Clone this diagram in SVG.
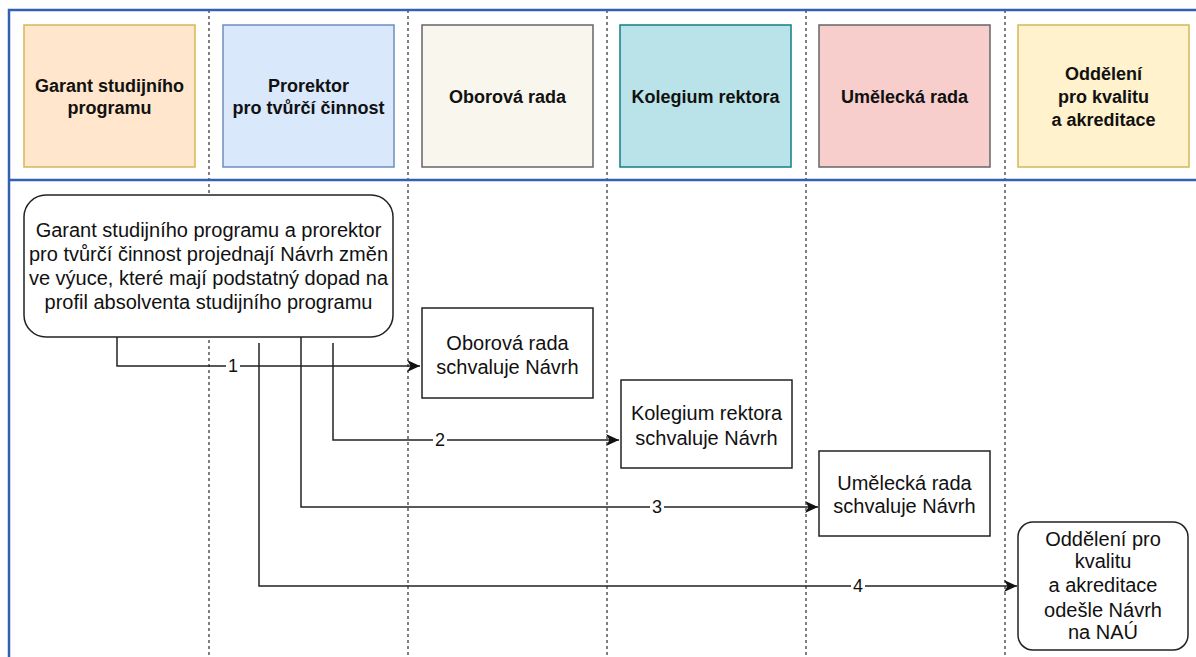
<svg xmlns="http://www.w3.org/2000/svg" width="1196" height="657" viewBox="0 0 1196 657">
<style>
.hdr{stroke-width:1.5}
.ht{font-family:"Liberation Sans",Arial,sans-serif;font-size:18px;font-weight:bold;fill:#111;text-anchor:middle}
.bt{font-family:"Liberation Sans",Arial,sans-serif;font-size:20px;fill:#111;text-anchor:middle}
.box{fill:#fff;stroke:#222;stroke-width:1.5}
.lane{stroke:#555;stroke-width:1.5;stroke-dasharray:3 3;fill:none}
.frame{stroke:#3360b0;stroke-width:2.5;fill:none}
.conn{stroke:#222;stroke-width:1.5;fill:none}
.lbl{font-family:"Liberation Sans",Arial,sans-serif;font-size:18px;fill:#111;text-anchor:middle}
</style>
<defs>
<marker id="arr" markerUnits="userSpaceOnUse" markerWidth="14" markerHeight="12" refX="13" refY="6" orient="auto">
<path d="M0,0 L13,6 L0,12 L3.5,6 Z" fill="#111"/>
</marker>
</defs>
<rect width="1196" height="657" fill="#fff"/>
<g id="lanes">
<path class="lane" d="M209,10V657M408,10V657M607,10V657M806,10V657M1005,10V657"/>
</g>
<g id="frame">
<path class="frame" d="M9,657V10H1196M9,180H1196"/>
</g>
<g id="h-garant"><rect class="hdr" x="24" y="25" width="171" height="142" fill="#ffe6cc" stroke="#d6b656"/><text class="ht" x="109.5" y="92">Garant studijního</text><text class="ht" x="109.5" y="114">programu</text></g>
<g id="h-prorektor"><rect class="hdr" x="223" y="25" width="171" height="142" fill="#dae8fc" stroke="#6c8ebf"/><text class="ht" x="308.5" y="92">Prorektor</text><text class="ht" x="308.5" y="114">pro tvůrčí činnost</text></g>
<g id="h-oborova"><rect class="hdr" x="422" y="25" width="171" height="142" fill="#f9f7ed" stroke="#666"/><text class="ht" x="507.5" y="103">Oborová rada</text></g>
<g id="h-kolegium"><rect class="hdr" x="620" y="25" width="171" height="142" fill="#b9e3e8" stroke="#0e8088"/><text class="ht" x="705.5" y="103">Kolegium rektora</text></g>
<g id="h-umelecka"><rect class="hdr" x="819" y="25" width="171" height="142" fill="#f8cecc" stroke="#666"/><text class="ht" x="904.5" y="103">Umělecká rada</text></g>
<g id="h-oddeleni"><rect class="hdr" x="1018" y="25" width="171" height="142" fill="#fff2cc" stroke="#d6b656"/><text class="ht" x="1103.5" y="80">Oddělení</text><text class="ht" x="1103.5" y="103">pro kvalitu</text><text class="ht" x="1103.5" y="126">a akreditace</text></g>
<g id="connectors">
<path class="conn" d="M117,337V366H420" marker-end="url(#arr)"/>
<path class="conn" d="M333,343V440H619" marker-end="url(#arr)"/>
<path class="conn" d="M301,337V507H818" marker-end="url(#arr)"/>
<path class="conn" d="M259,343V586H1017" marker-end="url(#arr)"/>
<rect x="226" y="355" width="14" height="20" fill="#fff"/><text class="lbl" x="233" y="372">1</text>
<rect x="433" y="429" width="14" height="20" fill="#fff"/><text class="lbl" x="440" y="446">2</text>
<rect x="650" y="496" width="14" height="20" fill="#fff"/><text class="lbl" x="657" y="513">3</text>
<rect x="851" y="575" width="14" height="20" fill="#fff"/><text class="lbl" x="858" y="592">4</text>
</g>
<g id="n-start"><rect class="box" x="24" y="195" width="369" height="142" rx="22"/>
<text class="bt" x="208.5" y="237">Garant studijního programu a prorektor</text>
<text class="bt" x="208.5" y="261">pro tvůrčí činnost projednají Návrh změn</text>
<text class="bt" x="208.5" y="285">ve výuce, které mají podstatný dopad na</text>
<text class="bt" x="208.5" y="309">profil absolventa studijního programu</text></g>
<g id="n-oborova"><rect class="box" x="422" y="308" width="171" height="90"/><text class="bt" x="507.5" y="350">Oborová rada</text><text class="bt" x="507.5" y="374">schvaluje Návrh</text></g>
<g id="n-kolegium"><rect class="box" x="621" y="380" width="171" height="88"/><text class="bt" x="706.5" y="420">Kolegium rektora</text><text class="bt" x="706.5" y="445">schvaluje Návrh</text></g>
<g id="n-umelecka"><rect class="box" x="819" y="451" width="171" height="85"/><text class="bt" x="904.5" y="490">Umělecká rada</text><text class="bt" x="904.5" y="513">schvaluje Návrh</text></g>
<g id="n-oddeleni"><rect class="box" x="1018" y="522" width="170" height="128" rx="15"/>
<text class="bt" x="1103" y="546">Oddělení pro</text>
<text class="bt" x="1103" y="568">kvalitu</text>
<text class="bt" x="1103" y="592">a akreditace</text>
<text class="bt" x="1103" y="617">odešle Návrh</text>
<text class="bt" x="1103" y="639">na NAÚ</text></g>
</svg>
